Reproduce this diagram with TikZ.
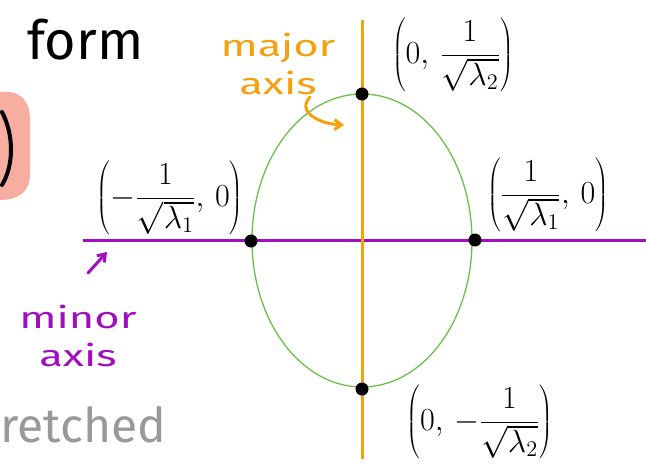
\documentclass[tikz,border=0pt]{standalone}
\usepackage{fontspec}
\setmainfont{Fira Sans}
\usetikzlibrary{shapes.geometric,arrows.meta}
\definecolor{axpurple}{HTML}{A20DC2}
\definecolor{axorange}{HTML}{F5A00F}
\definecolor{ellgreen}{HTML}{6CC04A}
\definecolor{blobpink}{HTML}{F8ADA1}
\definecolor{txtgray}{HTML}{999999}
\tikzset{
  dot/.style={circle,fill=black,minimum size=13pt,inner sep=0pt},
  ptlabel/.style={text=black,font=\fontsize{20}{24}\selectfont,inner sep=0pt,scale=1.55,transform shape},
  axislabel/.style={font=\fontsize{30}{38}\selectfont,align=center,inner sep=0pt,xscale=1.45,transform shape},
  axisline/.style={line width=3pt},
}
\begin{document}
\begin{tikzpicture}[x=1pt,y=-1pt]
\useasboundingbox (0,0) rectangle (646,464);
% pink blob at left edge
\fill[blobpink] (0,92) .. controls (20,90) and (30,100) .. (30,120)
  -- (30,175) .. controls (30,190) and (20,200) .. (0,200) -- cycle;
\draw[line width=4pt,line cap=round] (2,112) .. controls (14,135) and (14,165) .. (2,185);
% word fragments
\node[font=\fontsize{54}{54}\selectfont,anchor=west,inner sep=0pt] (form) at (27,40) {form};
\node[font=\fontsize{48}{48}\selectfont,text=txtgray,anchor=west,inner sep=0pt] (str) at (0,425) {retched};
% axes
\coordinate (hl) at (83,240);
\coordinate (hr) at (646,240);
\coordinate (vt) at (362,20);
\coordinate (vb) at (362,459);
\draw[axisline,axpurple] (hl) -- (hr);
\draw[axisline,axorange] (vt) -- (vb);
% ellipse
\node[draw=ellgreen,line width=1.3pt,ellipse,minimum width=220pt,minimum height=293pt,inner sep=0pt] (ell) at (362,240.5) {};
% points
\node[dot] (ptop) at (362,94) {};
\node[dot] (pbot) at (362,389) {};
\node[dot] (pleft) at (251,241) {};
\node[dot] (pright) at (475,240) {};
% point labels
\node[ptlabel] (ltop) at (453,55) {$\displaystyle\left(0,\,\frac{1}{\sqrt{\lambda_2}}\right)$};
\node[ptlabel] (lright) at (548,195) {$\displaystyle\left(\frac{1}{\sqrt{\lambda_1}},\,0\right)$};
\node[ptlabel] (lleft) at (170,198) {$\displaystyle\left(-\frac{1}{\sqrt{\lambda_1}},\,0\right)$};
\node[ptlabel] (lbot) at (480,422) {$\displaystyle\left(0,\,-\frac{1}{\sqrt{\lambda_2}}\right)$};
% axis labels
\node[axislabel,text=axorange] (major) at (278,64) {major\\axis};
\coordinate (majtip) at (344,125);
\draw[axorange,line width=3pt,line cap=round,-{Straight Barb[length=7pt,width=10pt]}]
  (310,97) .. controls (296,112) and (320,124) .. (majtip);
\node[axislabel,text=axpurple] (minor) at (78,336) {minor\\axis};
\coordinate (mintip) at (107,252);
\coordinate (minstart) at (88,273);
\draw[axpurple,line width=3pt,line cap=round,-{Straight Barb[length=7pt,width=10pt]}]
  (minstart) -- (mintip);
\end{tikzpicture}
\end{document}
